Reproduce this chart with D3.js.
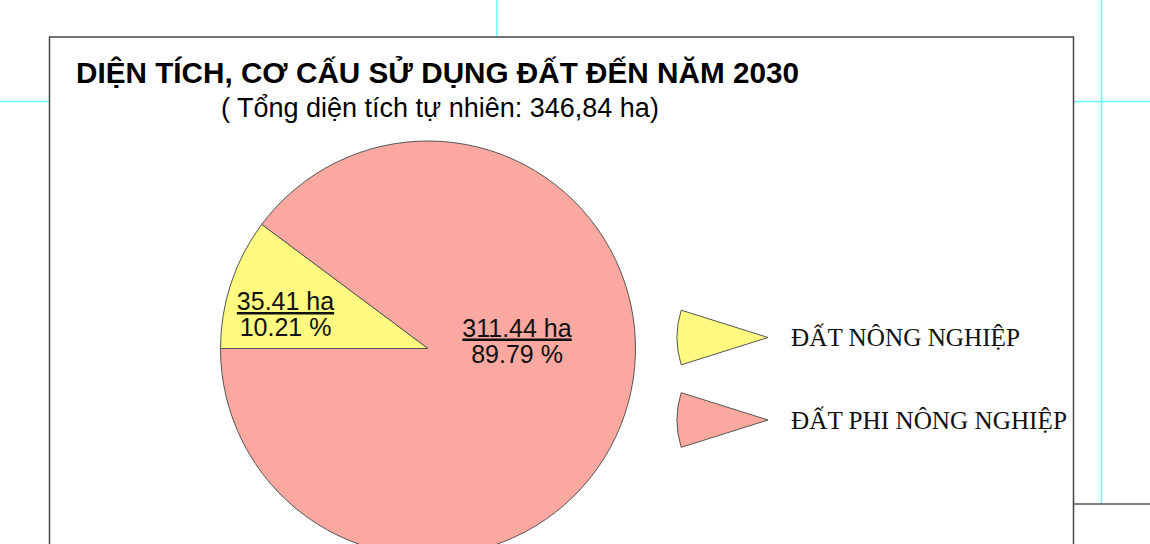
<!DOCTYPE html>
<html lang="vi">
<head>
<meta charset="UTF-8">
<script src="https://d3js.org/d3.v7.min.js"></script>
<title>Diện tích, cơ cấu sử dụng đất</title>
<style>
  body { margin: 0; background: #fff; }
</style>
</head>
<body>
<svg id="chart"></svg>
<script>
const categories = ["ĐẤT NÔNG NGHIỆP", "ĐẤT PHI NÔNG NGHIỆP"];
const areas = [35.41, 311.44];
const percents = [10.21, 89.79];
const colors = ["#fffb80", "#faa8a0"];
const title = "DIỆN TÍCH, CƠ CẤU SỬ DỤNG ĐẤT ĐẾN NĂM 2030";
const subtitle = "( Tổng diện tích tự nhiên: 346,84 ha)";

const width = 1150, height = 544;
const cx = 428, cy = 348.5, radius = 207.5;
// label block offsets from the pie centre, one per slice
const labelOffset = [[-142.5, -38.5], [89, -12]];

const svg = d3.select("#chart").attr("width", width).attr("height", height);

// page guide lines around the frame
const cyan = "#66ffff";
const guides = [
  [0, 101.5, 49, 101.5, cyan],
  [1073, 101.5, 1150, 101.5, cyan],
  [497, 0, 497, 36, cyan],
  [1101.5, 0, 1101.5, 504, cyan],
  [1073, 504, 1150, 504, "#555"]
];
svg.selectAll("line.guide").data(guides).join("line")
  .attr("class", "guide")
  .attr("x1", d => d[0]).attr("y1", d => d[1])
  .attr("x2", d => d[2]).attr("y2", d => d[3])
  .attr("stroke", d => d[4]).attr("stroke-width", 1.5);

// chart frame
svg.append("rect")
  .attr("x", 49.5).attr("y", 37).attr("width", 1024).attr("height", 540)
  .attr("fill", "#fff").attr("stroke", "#444").attr("stroke-width", 1.5);

svg.append("text")
  .attr("x", 76).attr("y", 82.5)
  .attr("font-family", "Liberation Sans, Arial, sans-serif")
  .attr("font-weight", "bold").attr("font-size", 29.7)
  .attr("fill", "#000")
  .text(title);

svg.append("text")
  .attr("x", 221).attr("y", 117)
  .attr("font-family", "Liberation Sans, Arial, sans-serif")
  .attr("font-size", 27)
  .attr("fill", "#000")
  .text(subtitle);

const data = categories.map((c, i) => ({ name: c, area: areas[i], pct: percents[i], color: colors[i] }));

const pie = d3.pie()
  .value(d => d.area)
  .sort(null)
  .startAngle(1.5 * Math.PI)
  .endAngle(3.5 * Math.PI);

const arc = d3.arc().innerRadius(0).outerRadius(radius);

const g = svg.append("g").attr("transform", `translate(${cx},${cy})`);
g.selectAll("path").data(pie(data)).join("path")
  .attr("d", arc)
  .attr("fill", d => d.data.color)
  .attr("stroke", "#555").attr("stroke-width", 1);

// value labels
const labels = g.selectAll("g.lbl").data(pie(data)).join("g")
  .attr("class", "lbl")
  .attr("transform", (d, i) => `translate(${labelOffset[i][0]},${labelOffset[i][1]})`)
  .attr("font-family", "Liberation Sans, Arial, sans-serif")
  .attr("font-size", 25)
  .attr("text-anchor", "middle")
  .attr("fill", "#111");

labels.append("text")
  .attr("y", 0)
  .attr("text-decoration", "underline")
  .text(d => d.data.area.toFixed(2) + " ha");
labels.append("text")
  .attr("y", 26)
  .text(d => d.data.pct.toFixed(2) + " %");

// legend: small wedges pointing right
const legendArc = d3.arc().innerRadius(0).outerRadius(91)
  .startAngle(1.5 * Math.PI - 0.305).endAngle(1.5 * Math.PI + 0.305);
const legendY = d3.scalePoint().domain(categories).range([337.5, 420]);

const legend = svg.selectAll("g.leg").data(data).join("g")
  .attr("class", "leg")
  .attr("transform", d => `translate(768,${legendY(d.name)})`);
legend.append("path")
  .attr("d", legendArc())
  .attr("fill", d => d.color)
  .attr("stroke", "#555").attr("stroke-width", 1);
legend.append("text")
  .attr("x", 23).attr("y", 8.5)
  .attr("font-family", "Liberation Serif, Times New Roman, serif")
  .attr("font-size", 25.2)
  .attr("fill", "#111")
  .text(d => d.name);
</script>
</body>
</html>
